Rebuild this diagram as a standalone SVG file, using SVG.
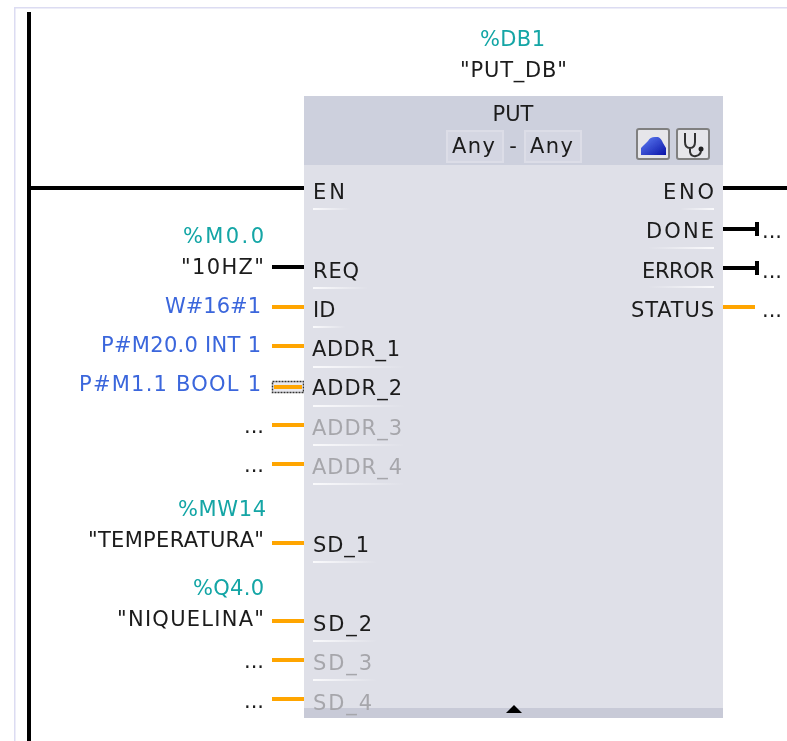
<svg xmlns="http://www.w3.org/2000/svg" width="787" height="741" viewBox="0 0 787 741">
<style>
text{font-family:"DejaVu Sans",sans-serif;font-size:21px;fill:#1a1a1a}
.r{text-anchor:end}
.m{text-anchor:middle}
.t{fill:#12a5a5}
.b{fill:#3a66dc}
.g{fill:#a6a6ab}
.o{stroke:#ffa500;stroke-width:4;fill:none}
.k{stroke:#000;stroke-width:4;fill:none}
.ul{fill:url(#fadeR);height:2px}
.ur{fill:url(#fadeL);height:2px}
.chip{fill:#d4d6e2;stroke:#dcdde7;stroke-width:2}
.btn{fill:#e6e6ea;stroke:#808080;stroke-width:2}
</style>
<defs>
<filter id="soft" x="0" y="0" width="100%" height="100%"><feGaussianBlur stdDeviation="0.45"/></filter>
<linearGradient id="fadeR"><stop offset="0" stop-color="#fafafc"/><stop offset="1" stop-color="#fafafc" stop-opacity="0"/></linearGradient>
<linearGradient id="fadeL"><stop offset="0" stop-color="#fafafc" stop-opacity="0"/><stop offset="1" stop-color="#fafafc"/></linearGradient>
<linearGradient id="blue" x1="0" y1="0" x2="1" y2="1"><stop offset="0" stop-color="#5f7ff5"/><stop offset="1" stop-color="#0a14a8"/></linearGradient>
</defs>
<rect width="787" height="741" fill="#fff"/>
<g filter="url(#soft)">
<path d="M14.500 741V7.500H787" fill="none" stroke="#dcdcf2" stroke-width="2"/>
<g id="connectors">
<path class="k" d="M29 12V741M29 188H304M722 188H787M272 267H304M722 229H757M757 222V236M722 268H757M757 261V275"/>
<path class="o" d="M272 307H304M272 346H304M272 425H304M272 464H304M272 543H304M272 621H304M272 660H304M272 699H304M722 307H755"/>
<rect x="272.500" y="381.500" width="31" height="11" fill="#e8e8ee" stroke="#333" stroke-width="1.500" stroke-dasharray="2 1"/>
<path class="o" d="M274 387H302"/>
</g>
<g id="block">
<rect x="304" y="96" width="419" height="622" fill="#dfe0e8"/>
<rect x="304" y="96" width="419" height="69" fill="#cdd0dd"/>
<rect x="304" y="708" width="419" height="10" fill="#c8cad7"/>
<path d="M506 713L514 705L522 713Z" fill="#000"/>
<text class="m" x="513" y="121">PUT</text>
<rect class="chip" x="447" y="131" width="56" height="31"/>
<rect class="chip" x="525" y="131" width="56" height="31"/>
<text x="452" y="153" textLength="43">Any</text>
<text class="m" x="513" y="153">-</text>
<text x="530" y="153" textLength="43">Any</text>
<rect class="btn" x="637" y="129" width="32" height="30" rx="2"/>
<path d="M641 155V148Q645 144 648 141Q650 137 655 137H658Q661 138 663 143L666 148V155Z" fill="url(#blue)"/>
<rect class="btn" x="677" y="129" width="32" height="30" rx="2"/>
<path d="M685 133V142Q685 148 690 148Q695 148 695 142V133M690 148V152Q691 157 696 156Q701 155 701 150" fill="none" stroke="#333" stroke-width="2"/>
<circle cx="701" cy="149" r="2.500" fill="#222"/>
<g id="underlines">
<rect class="ul" x="313" y="208" width="38" height="2"/>
<rect class="ul" x="313" y="287" width="55" height="2"/>
<rect class="ul" x="313" y="326" width="33" height="2"/>
<rect class="ul" x="313" y="366" width="92" height="2"/>
<rect class="ul" x="313" y="405" width="92" height="2"/>
<rect class="ul" x="313" y="444" width="92" height="2"/>
<rect class="ul" x="313" y="483" width="92" height="2"/>
<rect class="ul" x="313" y="561" width="64" height="2"/>
<rect class="ul" x="313" y="640" width="64" height="2"/>
<rect class="ul" x="313" y="679" width="64" height="2"/>
<rect class="ur" x="680" y="208" width="34" height="2"/>
<rect class="ur" x="648" y="247" width="66" height="2"/>
<rect class="ur" x="648" y="286" width="66" height="2"/>
</g>
</g>
<g id="pins-in">
<text x="313" y="199" textLength="32">EN</text>
<text x="313" y="278" textLength="46">REQ</text>
<text x="313" y="317">ID</text>
<text x="312" y="356" textLength="88">ADDR_1</text>
<text x="312" y="395" textLength="90">ADDR_2</text>
<text class="g" x="312" y="435" textLength="90">ADDR_3</text>
<text class="g" x="312" y="474" textLength="90">ADDR_4</text>
<text x="313" y="552" textLength="56">SD_1</text>
<text x="313" y="631" textLength="59">SD_2</text>
<text class="g" x="313" y="670" textLength="59">SD_3</text>
<text class="g" x="313" y="710" textLength="59">SD_4</text>
</g>
<g id="pins-out">
<text x="663" y="199" textLength="51">ENO</text>
<text x="646" y="238" textLength="68">DONE</text>
<text x="642" y="278" textLength="72">ERROR</text>
<text x="631" y="317" textLength="83">STATUS</text>
<text x="762" y="238">...</text>
<text x="762" y="278">...</text>
<text x="762" y="317">...</text>
</g>
<g id="instance">
<text class="t" x="480" y="46" textLength="65">%DB1</text>
<text x="460" y="77" textLength="107">"PUT_DB"</text>
</g>
<g id="operands">
<text class="t" x="183" y="243" textLength="81">%M0.0</text>
<text x="181" y="274" textLength="83">"10HZ"</text>
<text class="b" x="165" y="313" textLength="96">W#16#1</text>
<text class="b" x="101" y="352" textLength="160">P#M20.0 INT 1</text>
<text class="b" x="79" y="391" textLength="182">P#M1.1 BOOL 1</text>
<text class="r" x="264" y="433">...</text>
<text class="r" x="264" y="472">...</text>
<text class="t" x="178" y="516" textLength="88">%MW14</text>
<text x="88" y="547" textLength="176">"TEMPERATURA"</text>
<text class="t" x="193" y="595" textLength="71">%Q4.0</text>
<text x="117" y="626" textLength="147">"NIQUELINA"</text>
<text class="r" x="264" y="668">...</text>
<text class="r" x="264" y="708">...</text>
</g>
</g>
</svg>
